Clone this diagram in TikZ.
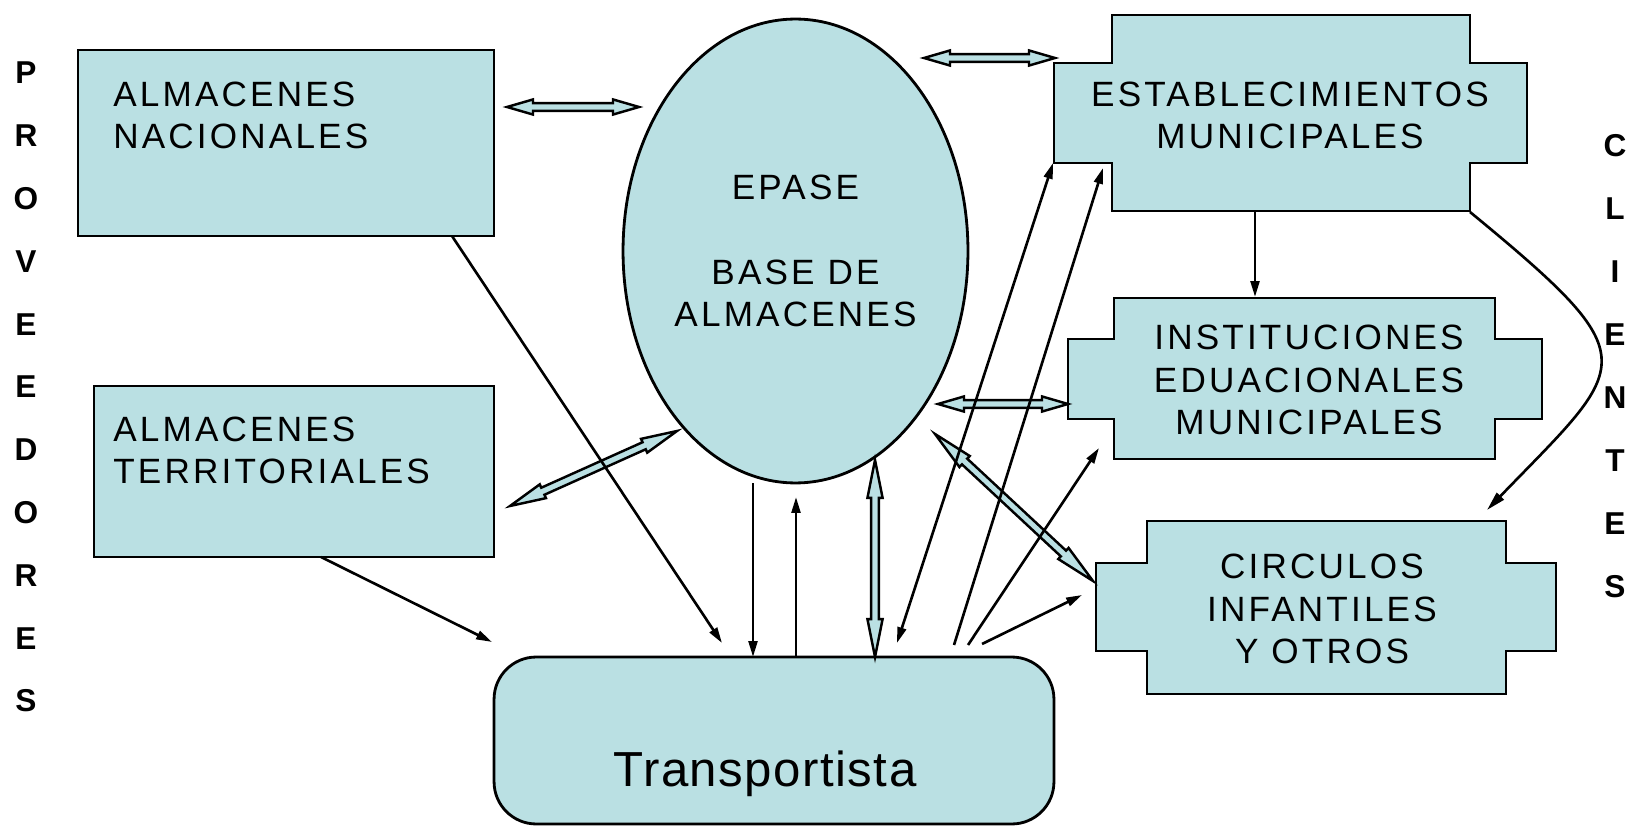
\documentclass[tikz,border=0pt]{standalone}
\usepackage{fontspec}
\setmainfont{Liberation Sans}
\newfontfamily\boxfont[LetterSpace=9]{Liberation Sans}
\newfontfamily\transfont[LetterSpace=3]{Liberation Sans}
\usepackage{tikz}
\usetikzlibrary{shapes.geometric,arrows.meta,calc}
\definecolor{boxBlue}{RGB}{186,224,227}

\tikzset{
  fillbox/.style={draw=black, line width=1.6pt, fill=boxBlue},
  boxtext/.style={font=\boxfont\fontsize{20}{24}\selectfont, inner sep=0pt},
  thinarrow/.style={line width=1.5pt, -{Triangle[length=9pt,width=5pt]}},
  blockarrow/.style={draw=black, line width=1.4pt, fill=boxBlue, line join=miter},
  sideletter/.style={font=\bfseries\fontsize{18}{18}\selectfont, inner sep=0pt},
}

% hollow double arrow between two named points, #1 = head length
\newcommand{\dblarrow}[3][14.8pt]{%
  \path ($(#2)!#1!(#3)$) coordinate (ha) ($(#3)!#1!(#2)$) coordinate (hb);
  \draw[blockarrow] (#2) -- ($(ha)!4.3pt!-90:(#3)$) -- ($(ha)!2.2pt!-90:(#3)$)
    -- ($(hb)!2.2pt!90:(#2)$) -- ($(hb)!4.3pt!90:(#2)$) -- (#3)
    -- ($(hb)!4.3pt!-90:(#2)$) -- ($(hb)!2.2pt!-90:(#2)$)
    -- ($(ha)!2.2pt!90:(#3)$) -- ($(ha)!4.3pt!90:(#3)$) -- cycle;}

\begin{document}
\begin{tikzpicture}[x=0.02cm,y=-0.02cm]
        \useasboundingbox (0,0) rectangle (1636,827);
        % Side labels
        \foreach \l [count=\i from 0] in {P,R,O,V,E,E,D,O,R,E,S}
          \node[sideletter] (prov\i) at (26,73+62.8*\i) {\l};
        \foreach \l [count=\i from 0] in {C,L,I,E,N,T,E,S}
          \node[sideletter] (cli\i) at (1615,146+62.9*\i) {\l};
        % Suppliers
        \node[fillbox, minimum width=8.32cm, minimum height=3.72cm] (nacBox) at (286,143) {};
        \node[boxtext, align=left, anchor=west] (nac) at (113,115) {ALMACENES\\NACIONALES};
        \node[fillbox, minimum width=8cm, minimum height=3.42cm] (terrBox) at (294,471.5) {};
        \node[boxtext, align=left, anchor=west] (terr) at (113,450) {ALMACENES\\TERRITORIALES};
        % Warehouse base
        \node[fillbox, ellipse, boxtext, align=center, minimum width=6.9cm, minimum height=9.28cm]
          (epase) at (795.5,251) {EPASE\\[24pt]BASE DE\\ALMACENES};
        % Carrier
        \node[fillbox, rounded corners=24pt, minimum width=11.2cm, minimum height=3.34cm] (trans) at (774,740.5) {};
        \node[font=\transfont\fontsize{28}{30}\selectfont, inner sep=0pt] (transLbl) at (765,774) {Transportista};
        % Clients
        \draw[fillbox] (1112,15) -- (1470,15) -- (1470,63) -- (1527,63) -- (1527,163) -- (1470,163)
          -- (1470,211) -- (1112,211) -- (1112,163) -- (1054,163) -- (1054,63) -- (1112,63) -- cycle;
        \node[boxtext, align=center] (estab) at (1290,115) {ESTABLECIMIENTOS\\MUNICIPALES};
        \draw[fillbox] (1114,298) -- (1495,298) -- (1495,339) -- (1542,339) -- (1542,419) -- (1495,419)
          -- (1495,459) -- (1114,459) -- (1114,419) -- (1068,419) -- (1068,339) -- (1114,339) -- cycle;
        \node[boxtext, align=center] (inst) at (1309,380) {INSTITUCIONES\\EDUACIONALES\\MUNICIPALES};
        \draw[fillbox] (1147,521) -- (1506,521) -- (1506,563) -- (1556,563) -- (1556,651) -- (1506,651)
          -- (1506,694) -- (1147,694) -- (1147,651) -- (1096,651) -- (1096,563) -- (1147,563) -- cycle;
        \node[boxtext, align=center] (circ) at (1322,609) {CIRCULOS\\INFANTILES\\Y OTROS};
        % Connector ends
        \coordinate (nacR) at (507,107);    \coordinate (epaseL) at (639,107);
        \coordinate (epaseR) at (924,58);   \coordinate (estabL) at (1055,58);
        \coordinate (terrR) at (510,506);   \coordinate (epaseSW) at (677,431);
        \coordinate (epaseS) at (875,460);  \coordinate (transN) at (875,657);
        \coordinate (epaseE) at (938,404);  \coordinate (instL) at (1068,404);
        \coordinate (epaseSE) at (935,434); \coordinate (circL) at (1093,581);
        \coordinate (nacS) at (452,236);    \coordinate (transA) at (722,643);
        \coordinate (terrS) at (321,557);   \coordinate (transB) at (492,642);
        \coordinate (epaseB1) at (753,483); \coordinate (transC) at (753,657);
        \coordinate (transD) at (796,657);  \coordinate (epaseB2) at (796,497);
        \coordinate (transE) at (897,643);  \coordinate (estabSW) at (1053,163);
        \coordinate (transF) at (954,645);  \coordinate (estabB) at (1103,168);
        \coordinate (transG) at (968,645);  \coordinate (instSW) at (1099,448);
        \coordinate (transH) at (982,644);  \coordinate (circW) at (1082,595);
        \coordinate (estabS) at (1255,211); \coordinate (instN) at (1255,297);
        \coordinate (estabSE) at (1470,212); \coordinate (circNE) at (1487,510);
        % Hollow double arrows
        \dblarrow{nacR}{epaseL}
        \dblarrow{epaseR}{estabL}
        \dblarrow[20.5pt]{terrR}{epaseSW}
        \dblarrow[21.5pt]{epaseS}{transN}
        \dblarrow{epaseE}{instL}
        \dblarrow[23pt]{epaseSE}{circL}
        % Thin arrows
        \draw[thinarrow] (nacS) -- (transA);
        \draw[thinarrow] (terrS) -- (transB);
        \draw[thinarrow] (epaseB1) -- (transC);
        \draw[thinarrow] (transD) -- (epaseB2);
        \draw[thinarrow, {Triangle[length=9pt,width=5pt]}-{Triangle[length=9pt,width=5pt]}] (transE) -- (estabSW);
        \draw[thinarrow] (transF) -- (estabB);
        \draw[thinarrow] (transG) -- (instSW);
        \draw[thinarrow] (transH) -- (circW);
        \draw[thinarrow] (estabS) -- (instN);
        \draw[thinarrow, -{Triangle[length=11pt,width=5.5pt]}] (estabSE) .. controls (1651,361) and (1630,362) .. (circNE);
\end{tikzpicture}
\end{document}
